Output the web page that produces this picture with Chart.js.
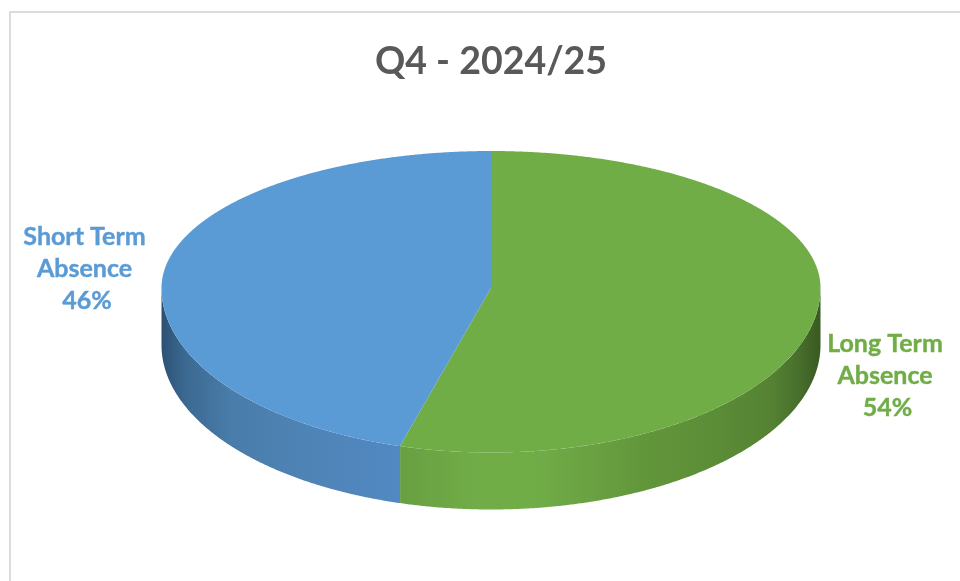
<!DOCTYPE html>
<html>
<head>
<meta charset="utf-8">
<style>
html,body{margin:0;padding:0;background:#fff;}
#wrap{width:960px;height:581px;position:relative;overflow:hidden;}
</style>
<script src="https://cdn.jsdelivr.net/npm/chart.js@4"></script>
</head>
<body>
<div id="wrap"><canvas id="c" width="960" height="581"></canvas></div>
<script>
const chartTitle = "Q4 - 2024/25";
const categories = ["Long Term Absence", "Short Term Absence"];
const labelLines = [["Long Term", "Absence"], ["Short Term", "Absence"]];
const values = [54.45, 45.55];
const topColors = ["#70ad47", "#5b9bd5"];
const textColors = ["#70ad47", "#5b9bd5"];
const wallStops = [
  [[400,"#69a042"],[480,"#70ad47"],[535,"#70ad47"],[600,"#699f41"],[640,"#63973b"],[700,"#5d8f38"],[770,"#558333"],[800,"#476e2b"],[820,"#395a22"]],
  [[161,"#2c5073"],[185,"#3b6991"],[230,"#497ca9"],[300,"#4e83b5"],[400,"#5289c2"]]
];
const labelPos = [[885, 344], [84.5, 237]];
const percentShift = 2.5;

const R = 200, SX = 329.5 / R, SY_UP = 137 / R, SY_DOWN = 164.5 / R, DEPTH = 57, LINE = 32.2;

function pt(a, arc, dy) {
  const s = Math.sin(a);
  return [arc.x + R * SX * Math.cos(a), arc.y + R * (s < 0 ? SY_UP : SY_DOWN) * s + (dy || 0)];
}
function trace(ctx, a0, a1, arc, dy, first) {
  const n = Math.max(2, Math.ceil(Math.abs(a1 - a0) / 0.005));
  for (let i = 0; i <= n; i++) {
    const p = pt(a0 + (a1 - a0) * i / n, arc, dy);
    if (i === 0 && first) ctx.moveTo(p[0], p[1]); else ctx.lineTo(p[0], p[1]);
  }
}
const TAU = Math.PI * 2;
const pie3d = {
  id: "pie3d",
  beforeDraw(chart) {
    const ctx = chart.ctx;
    ctx.save();
    ctx.fillStyle = "#dcdcdc";
    ctx.fillRect(9, 11, 951, 2);
    ctx.fillRect(9, 11, 2, 570);
    ctx.restore();
  },
  beforeDatasetDraw(chart, args) {
    const ctx = chart.ctx;
    const arcs = chart.getDatasetMeta(args.index).data;
    arcs.forEach((arc, i) => {
      let s = arc.startAngle, e = arc.endAngle;
      const wallRanges = [];
      for (let k = -1; k <= 1; k++) {
        const lo = Math.max(s, k * TAU), hi = Math.min(e, k * TAU + Math.PI);
        if (hi > lo) wallRanges.push([lo, hi]);
      }
      wallRanges.forEach(([lo, hi]) => {
        const stops = wallStops[i];
        const x0 = stops[0][0], x1 = stops[stops.length - 1][0];
        const g = ctx.createLinearGradient(x0, 0, x1, 0);
        stops.forEach(st => g.addColorStop((st[0] - x0) / (x1 - x0), st[1]));
        ctx.beginPath();
        trace(ctx, lo, hi, arc, 0, true);
        trace(ctx, hi, lo, arc, DEPTH, false);
        ctx.closePath();
        ctx.fillStyle = g;
        ctx.fill();
      });
    });
    arcs.forEach((arc, i) => {
      ctx.beginPath();
      ctx.moveTo(arc.x, arc.y);
      trace(ctx, arc.startAngle, arc.endAngle, arc, 0, false);
      ctx.closePath();
      ctx.fillStyle = topColors[i];
      ctx.fill();
    });
    return false;
  },
  afterDraw(chart) {
    const ctx = chart.ctx;
    ctx.save();
    ctx.font = "bold 25px Lato";
    ctx.textAlign = "center";
    ctx.textBaseline = "middle";
    ctx.lineWidth = 0.4;
    categories.forEach((c, i) => {
      const lines = labelLines[i].concat([Math.round(values[i]) + "%"]);
      ctx.fillStyle = textColors[i];
      ctx.strokeStyle = textColors[i];
      lines.forEach((t, j) => {
        const x = labelPos[i][0] + (j === 2 ? percentShift : 0);
        ctx.fillText(t, x, labelPos[i][1] + j * LINE);
        ctx.strokeText(t, x, labelPos[i][1] + j * LINE);
      });
    });
    ctx.restore();
  }
};

new Chart(document.getElementById("c"), {
  type: "pie",
  data: {
    labels: categories,
    datasets: [{ data: values, backgroundColor: topColors, borderWidth: 0, radius: R }]
  },
  options: {
    responsive: false,
    animation: false,
    layout: { padding: { left: 22, right: 0, top: 0, bottom: 89 } },
    plugins: {
      legend: { display: false },
      tooltip: { enabled: false },
      title: {
        display: true,
        text: chartTitle,
        color: "#595959",
        font: { family: "Lato", size: 37.5, weight: "bold", lineHeight: 1.2 },
        padding: { top: 39, bottom: 0 }
      }
    }
  },
  plugins: [pie3d]
});
</script>
</body>
</html>
